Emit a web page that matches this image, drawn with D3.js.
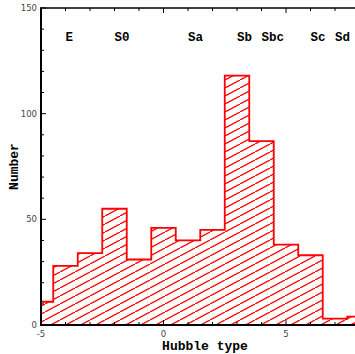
<!DOCTYPE html>
<html>
<head>
<meta charset="utf-8">
<script src="https://cdn.jsdelivr.net/npm/d3@7"></script>
<style>
  body { margin: 0; background: #fff; }
</style>
</head>
<body>
<svg id="histo" width="355" height="354"></svg>
<script>
// data
const binCenters = [-5, -4, -3, -2, -1, 0, 1, 2, 3, 4, 5, 6, 7, 8];
const counts = [11, 28, 34, 55, 31, 46, 40, 45, 118, 87, 38, 33, 3, 4];
const typeNames = ["E", "S0", "Sa", "Sb", "Sbc", "Sc", "Sd"];
const typeAt = [-4, -2, 1, 3, 4, 6, 7];
const xMajorTicks = [-5, 0, 5];
const yMajorTicks = [0, 50, 100, 150];

const margin = {top: 8, right: 0, bottom: 29, left: 41};
const svg = d3.select("#histo");
const W = +svg.attr("width"), H = +svg.attr("height");
const plotBottom = H - margin.bottom;

const x = d3.scaleLinear().domain([-5, 8]).range([margin.left, margin.left + 13 * 24.5]);
const y = d3.scaleLinear().domain([0, 150]).range([plotBottom, margin.top]);

const labelFont = "'Liberation Mono', 'DejaVu Sans Mono', monospace";
const tickFont = "'DejaVu Sans', Arial, sans-serif";

let defs = svg.append("defs");
defs.append("clipPath").attr("id", "plotClip")
  .append("rect")
  .attr("x", margin.left).attr("y", margin.top)
  .attr("width", W - margin.left).attr("height", plotBottom - margin.top);

let pat = defs.append("pattern")
  .attr("id", "hatch")
  .attr("patternUnits", "userSpaceOnUse")
  .attr("width", 15).attr("height", 8);
pat.append("line")
  .attr("x1", -1).attr("y1", 8 + 8 / 15)
  .attr("x2", 16).attr("y2", -8 / 15)
  .attr("stroke", "#ff0000").attr("stroke-width", 1.3);

// step outline of the histogram
let pts = [];
binCenters.forEach(function(c, i) {
  let lo = Math.max(c - 0.5, -5);
  pts.push([lo, counts[i]]);
  pts.push([c + 0.5, counts[i]]);
});

let g = svg.append("g").attr("clip-path", "url(#plotClip)");

g.append("path")
  .datum(pts)
  .attr("d", d3.area().x(function(d) { return x(d[0]); }).y0(y(0)).y1(function(d) { return y(d[1]); }))
  .attr("fill", "url(#hatch)");

g.append("path")
  .datum(pts)
  .attr("d", d3.line().x(function(d) { return x(d[0]); }).y(function(d) { return y(d[1]); }))
  .attr("fill", "none")
  .attr("stroke", "#ff0000")
  .attr("stroke-width", 1.8);

// axes
let ax = svg.append("g");
let xMinor = d3.range(-5, 9);
let yMinor = d3.range(0, 151, 10);

ax.selectAll(".xtb").data(xMinor).enter().append("line")
  .attr("x1", function(d) { return x(d); }).attr("x2", function(d) { return x(d); })
  .attr("y1", plotBottom)
  .attr("y2", function(d) { return plotBottom - (xMajorTicks.includes(d) ? 5 : 3); })
  .attr("stroke", "#000").attr("stroke-width", 1);

ax.selectAll(".xtt").data(xMinor).enter().append("line")
  .attr("x1", function(d) { return x(d); }).attr("x2", function(d) { return x(d); })
  .attr("y1", margin.top)
  .attr("y2", function(d) { return margin.top + (xMajorTicks.includes(d) ? 5 : 3); })
  .attr("stroke", "#000").attr("stroke-width", 1);

ax.selectAll(".ytl").data(yMinor).enter().append("line")
  .attr("x1", margin.left)
  .attr("x2", function(d) { return margin.left + (yMajorTicks.includes(d) ? 5 : 3); })
  .attr("y1", function(d) { return y(d); }).attr("y2", function(d) { return y(d); })
  .attr("stroke", "#000").attr("stroke-width", 1);

ax.append("line").attr("x1", margin.left).attr("x2", W)
  .attr("y1", plotBottom).attr("y2", plotBottom)
  .attr("stroke", "#000").attr("stroke-width", 2);
ax.append("line").attr("x1", margin.left).attr("x2", W)
  .attr("y1", margin.top).attr("y2", margin.top)
  .attr("stroke", "#000").attr("stroke-width", 1.5);
ax.append("line").attr("x1", margin.left).attr("x2", margin.left)
  .attr("y1", margin.top - 0.75).attr("y2", plotBottom + 1)
  .attr("stroke", "#000").attr("stroke-width", 2);

ax.selectAll(".xl").data(xMajorTicks).enter().append("text")
  .attr("x", function(d) { return x(d); })
  .attr("y", plotBottom + 12)
  .attr("text-anchor", "middle")
  .attr("font-family", tickFont).attr("font-size", "8.5px").attr("fill", "#444")
  .text(function(d) { return d; });

ax.selectAll(".yl").data(yMajorTicks).enter().append("text")
  .attr("x", margin.left - 4)
  .attr("y", function(d) { return y(d) + 3; })
  .attr("text-anchor", "end")
  .attr("font-family", tickFont).attr("font-size", "8.5px").attr("fill", "#444")
  .text(function(d) { return d; });

// hubble type names along the top
svg.selectAll(".tn").data(typeNames).enter().append("text")
  .attr("x", function(d, i) { return x(typeAt[i]); })
  .attr("y", 41)
  .attr("font-family", labelFont).attr("font-weight", "bold").attr("font-size", "12.5px")
  .attr("fill", "#000")
  .text(function(d) { return d; });

svg.append("text")
  .attr("x", 205).attr("y", 350)
  .attr("text-anchor", "middle")
  .attr("font-family", labelFont).attr("font-weight", "bold").attr("font-size", "13px")
  .text("Hubble type");

svg.append("text")
  .attr("transform", "translate(18," + ((margin.top + plotBottom) / 2) + ") rotate(-90)")
  .attr("text-anchor", "middle")
  .attr("font-family", labelFont).attr("font-weight", "bold").attr("font-size", "13px")
  .text("Number");
</script>
</body>
</html>
